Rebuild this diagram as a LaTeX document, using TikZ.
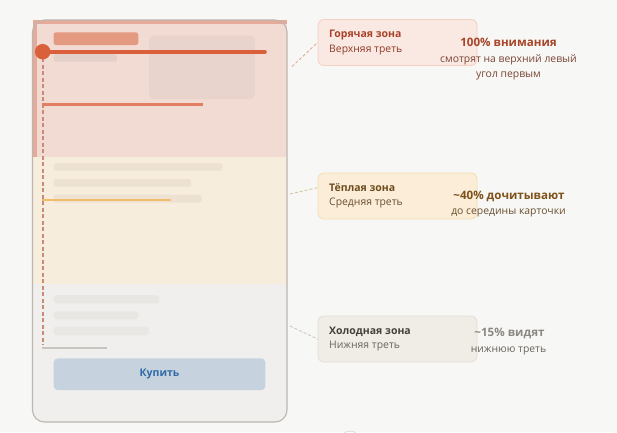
\documentclass[tikz,border=0pt]{standalone}
\usepackage{fontspec}
\setmainfont{Open Sans}
\usetikzlibrary{calc}
\definecolor{pagebg}{HTML}{F7F7F5}
\definecolor{cardbg}{HTML}{F0EFED}
\definecolor{cardline}{HTML}{BDB6B0}
\definecolor{hotfill}{HTML}{F2DBD3}
\definecolor{hotedge}{HTML}{E6AA9A}
\definecolor{warmfill}{HTML}{F7EDDC}
\definecolor{hotbar}{HTML}{E49A80}
\definecolor{hotgray}{HTML}{E3D0C9}
\definecolor{hotimg}{HTML}{E8D4CD}
\definecolor{hotline}{HTML}{D9603A}
\definecolor{hotline2}{HTML}{E07F62}
\definecolor{warmbar}{HTML}{EDE2D2}
\definecolor{warmline}{HTML}{F0BC6A}
\definecolor{coldbar}{HTML}{E8E7E4}
\definecolor{coldline}{HTML}{C8C4C0}
\definecolor{dashcol}{HTML}{C98A76}
\definecolor{btnfill}{HTML}{C6D2DD}
\definecolor{btntext}{HTML}{2F6AA8}
\definecolor{hotbox}{HTML}{FAE8E2}
\definecolor{hotboxline}{HTML}{F5CFC0}
\definecolor{warmbox}{HTML}{FBEDD8}
\definecolor{warmboxline}{HTML}{F5DCB0}
\definecolor{coldbox}{HTML}{F0EDE6}
\definecolor{coldboxline}{HTML}{E3DED5}
\definecolor{hottitle}{HTML}{A8432A}
\definecolor{hotsub}{HTML}{8E3B26}
\definecolor{hotstat}{HTML}{A84428}
\definecolor{hotstatsub}{HTML}{7A4535}
\definecolor{warmtitle}{HTML}{6E4C1C}
\definecolor{warmsub}{HTML}{6B5030}
\definecolor{warmstat}{HTML}{7E521A}
\definecolor{coldtitle}{HTML}{45403B}
\definecolor{coldsub}{HTML}{6A655E}
\definecolor{coldstat}{HTML}{8C8882}
\tikzset{
  x=1pt, y=-1pt,
  calloutbox/.style={draw, line width=0.8pt, rounded corners=6pt, minimum width=159pt, minimum height=46pt, inner sep=0pt},
  boxtitle/.style={anchor=west, inner sep=0pt, font=\fontsize{10.5}{12}\selectfont\bfseries},
  boxsub/.style={anchor=west, inner sep=0pt, font=\fontsize{10.4}{12}\selectfont},
  stat/.style={inner sep=0pt, font=\fontsize{11.6}{13}\selectfont\bfseries},
  statsub/.style={inner sep=0pt, font=\fontsize{10.4}{12}\selectfont},
  link/.style={densely dashed, line width=0.8pt},
  placeholder/.style={rounded corners=2.5pt},
}
\begin{document}
\begin{tikzpicture}
\fill[pagebg] (0,0) rectangle (617,432);
\useasboundingbox (0,0) rectangle (617,432);
% card
\fill[cardbg, rounded corners=12pt] (32.5,20) rectangle (287,422);
% zones
\fill[hotfill] (32.5,19.5) rectangle (287,157);
\fill[hotedge] (32.5,19.5) rectangle (287,23.5);
\fill[hotedge] (32.5,19.5) rectangle (36.5,157);
\fill[warmfill] (32.5,157) rectangle (287,284);
% card border
\draw[cardline, line width=1.1pt, rounded corners=12pt] (32.5,20) rectangle (287,422);
% hot content
\fill[hotbar, placeholder] (53.5,32.3) rectangle (138.3,45);
\fill[hotgray, placeholder] (53.5,54) rectangle (117,61.7);
\fill[hotimg, rounded corners=5pt] (149,35.7) rectangle (255,99);
% warm content
\fill[warmbar, placeholder] (53.5,163.3) rectangle (222.7,170.7);
\fill[warmbar, placeholder] (53.5,179) rectangle (191,186.7);
\fill[warmbar, placeholder] (53.5,194.7) rectangle (201.7,202.7);
% cold content
\fill[coldbar, placeholder] (53.5,295) rectangle (159.3,303.3);
\fill[coldbar, placeholder] (53.5,311.3) rectangle (138.3,319.3);
\fill[coldbar, placeholder] (53.5,326.7) rectangle (149,335);
% reading lines
\draw[dashcol, line width=1.6pt, dash pattern=on 4pt off 2.5pt] (42.7,51.7) -- (42.7,345);
\draw[hotline, line width=3.6pt, line cap=round] (42.7,51.7) -- (265,51.7);
\node[circle, fill=hotline, minimum size=15.5pt, inner sep=0pt] (eye) at (42.7,51.7) {};
\draw[hotline2, line width=2.4pt] (42,104.3) -- (202.7,104.3);
\draw[warmline, line width=2.2pt] (42,199.7) -- (171,199.7);
\draw[coldline, line width=1.6pt] (42,348) -- (107,348);
% button
\node[fill=btnfill, rounded corners=4pt, minimum width=211.6pt, minimum height=31.7pt, inner sep=0pt, text=btntext, font=\fontsize{10.5}{12}\selectfont\bfseries] (buy) at (159.5,374.2) {Купить};
% callouts
\node[calloutbox, fill=hotbox, draw=hotboxline] (hot) at (397.5,42.5) {};
\node[boxtitle, text=hottitle] (hott) at (329,35) {Горячая зона};
\node[boxsub, text=hotsub] (hots) at (329,50) {Верхняя треть};
\coordinate (hotend) at (292,66.5);
\draw[link, draw=hotline2!70] (hotend) -- (hot.west);
\node[stat, text=hotstat] (hotstat) at (508.5,42) {100\% внимания};
\node[statsub, text=hotstatsub] (hotstat1) at (508.5,60) {смотрят на верхний левый};
\node[statsub, text=hotstatsub] (hotstat2) at (508.5,75.5) {угол первым};

\node[calloutbox, fill=warmbox, draw=warmboxline] (warm) at (397.5,196) {};
\node[boxtitle, text=warmtitle] (warmt) at (329,188) {Тёплая зона};
\node[boxsub, text=warmsub] (warms) at (329,203) {Средняя треть};
\coordinate (warmend) at (290,194);
\draw[link, draw=warmline!60!gray!70] (warmend) -- (warm.174);
\node[stat, text=warmstat] (warmstat) at (509,196) {\textasciitilde40\% дочитывают};
\node[statsub, text=warmsub] (warmstat1) at (508.5,213) {до середины карточки};

\node[calloutbox, fill=coldbox, draw=coldboxline] (cold) at (397.5,339) {};
\node[boxtitle, text=coldtitle] (coldt) at (329,331.5) {Холодная зона};
\node[boxsub, text=coldsub] (colds) at (329,346) {Нижняя треть};
\coordinate (coldend) at (290,326);
\draw[link, draw=coldline] (coldend) -- (cold.west);
\node[stat, text=coldstat] (coldstat) at (509.5,333) {\textasciitilde15\% видят};
\node[statsub, text=coldsub] (coldstat1) at (508.5,351) {нижнюю треть};
% faint circle at bottom edge
\node[circle, draw=coldline!60, line width=0.8pt, minimum size=20pt, inner sep=0pt] (dot) at (350,441) {};
\end{tikzpicture}
\end{document}
